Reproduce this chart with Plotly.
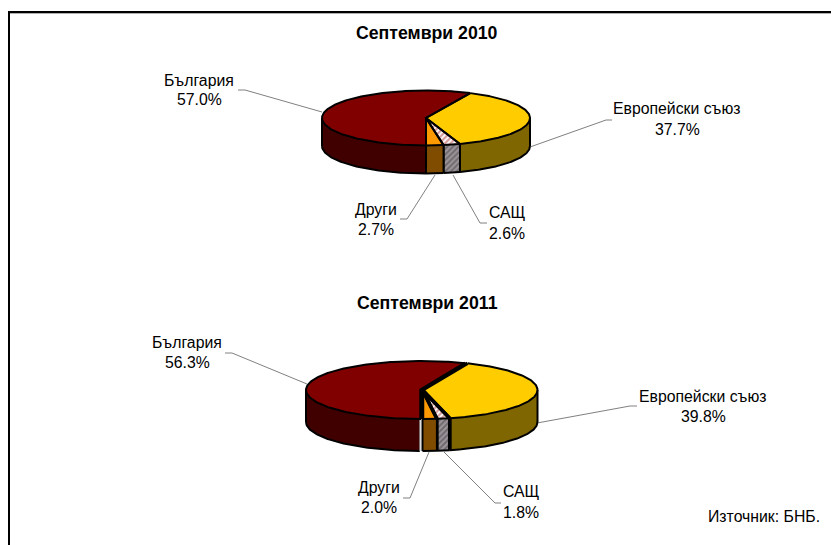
import math
import plotly.graph_objects as go

categories = ["Европейски съюз", "САЩ", "Други", "България"]
titles = ["Септември 2010", "Септември 2011"]
values_2010 = [37.7, 2.6, 2.7, 57.0]
values_2011 = [39.8, 1.8, 2.0, 56.3]
source_text = "Източник: БНБ."

TOP = ["#FFCC00", None, "#FF9900", "#800000"]
SIDE = ["#806600", None, "#804C00", "#400000"]
FONT = "Liberation Sans, Arial, sans-serif"
FS = 15.8

fig = go.Figure()


def pt(g, a, dz=0.0, off=(0, 0)):
    r = math.radians(a)
    return (g["cx"] + off[0] + g["rx"] * math.sin(r),
            g["cy"] + off[1] - g["ry"] * math.cos(r) + dz)


def arc(g, a0, a1, dz=0.0, off=(0, 0)):
    n = max(2, int(abs(a1 - a0)) + 2)
    return [pt(g, a0 + (a1 - a0) * i / (n - 1), dz, off) for i in range(n)]


def poly(points, color=None, pattern=None):
    xs = [p[0] for p in points] + [points[0][0]]
    ys = [p[1] for p in points] + [points[0][1]]
    kw = dict(fillpattern=pattern) if pattern else {}
    fig.add_trace(go.Scatter(x=xs, y=ys, mode="lines", fill="toself",
                             fillcolor=color or "rgba(0,0,0,0)",
                             line=dict(width=0, color="rgba(0,0,0,0)"),
                             hoverinfo="skip", showlegend=False, **kw))


def line(points, w=2, color="#000000"):
    fig.add_trace(go.Scatter(x=[p[0] for p in points], y=[p[1] for p in points],
                             mode="lines", line=dict(width=w, color=color),
                             hoverinfo="skip", showlegend=False))


def text(x, y, s, bold=False, size=FS):
    fig.add_annotation(x=x, y=y, text=f"<b>{s}</b>" if bold else s, showarrow=False,
                       xanchor="center", yanchor="middle",
                       font=dict(family=FONT, size=size, color="#000000"))


def draw_pie(values, g):
    front = sum(values[:3]) * 3.6
    a = 180 - front
    spans = []
    for i, v in enumerate(values):
        spans.append((i, a, a + v * 3.6))
        a += v * 3.6
    d = g["depth"]
    gap = g["gap"]
    # walls
    for i, a0, a1 in spans:
        off = g["offs"][i]
        for shift in (0, 360):
            lo, hi = max(a0 - shift, 90), min(a1 - shift, 270)
            if lo < hi:
                is_gap_wall = gap > 0 and i == 3
                wall_lo = lo + gap if is_gap_wall else lo
                top = arc(g, wall_lo, hi, 0, off)
                bot = arc(g, hi, wall_lo, d, off)
                if SIDE[i]:
                    poly(top + bot, SIDE[i])
                else:
                    poly(top + bot, None, dict(shape="/", bgcolor="#9A9298", fgcolor="#3C3C3C",
                                               size=4, solidity=0.45))
                line(arc(g, wall_lo, hi, d, off), g["edge"])
                if is_gap_wall:
                    line([pt(g, wall_lo, 0, off), pt(g, wall_lo, d, off)], 1, "#8C8C8C")
                else:
                    lo_w = g["edge"] if lo <= 90 or i == 2 else g["radial"]
                    line([pt(g, lo, 0, off), pt(g, lo, d, off)], lo_w)
                hi_w = g["edge"] if hi >= 270 or i == 2 else g["radial"]
                line([pt(g, hi, 0, off), pt(g, hi, d, off)], hi_w)
    # top faces
    for i, a0, a1 in spans:
        off = g["offs"][i]
        c = (g["cx"] + off[0], g["cy"] + off[1])
        pts = [c] + arc(g, a0, a1, 0, off)
        if TOP[i]:
            poly(pts, TOP[i])
        else:
            poly(pts, None, dict(shape="/", bgcolor="#FFFFFF", fgcolor="#B03C3C", size=4, solidity=0.55))
    for i, a0, a1 in spans:
        off = g["offs"][i]
        c = (g["cx"] + off[0], g["cy"] + off[1])
        line(arc(g, a0, a1, 0, off), g["edge"])
        line([pt(g, a0, 0, off), c, pt(g, a1, 0, off)], g["radial"])


def label(idx, values, xc, y1, y2):
    text(xc, y1, categories[idx])
    text(xc, y2, f"{values[idx]:.1f}%")


G1 = dict(cx=426, cy=118, rx=104, ry=27.5, depth=28, edge=2, radial=2, gap=0,
          offs=[(0, 0)] * 4)
G2 = dict(cx=422, cy=390, rx=115, ry=29, depth=32, edge=2, radial=3.5, gap=0.6,
          offs=[(0.5, 0), (0.5, 0), (0.5, 0), (-1, 0)])

LEAD = "#808080"
for pts in [
    [(238, 90), (245, 90), (322, 112)],
    [(612, 120), (606, 120), (530, 147)],
    [(400, 219), (407, 219), (435, 175)],
    [(487, 223), (480, 223), (453, 175)],
    [(225, 353), (232, 353), (307, 384)],
    [(637, 406), (630, 406), (537, 423)],
    [(403, 498), (410, 498), (429, 452)],
    [(501, 503), (495, 503), (444, 452)],
]:
    line(pts, 1, LEAD)

draw_pie(values_2010, G1)
draw_pie(values_2011, G2)

text(427, 33, titles[0], bold=True, size=17.7)
text(427, 303, titles[1], bold=True, size=17.7)

label(3, values_2010, 199, 80, 99)
label(0, values_2010, 677, 108, 129)
label(2, values_2010, 376, 209, 229)
label(1, values_2010, 507, 212, 233)
label(3, values_2011, 187, 342, 362)
label(0, values_2011, 703, 396, 416)
label(2, values_2011, 379, 487, 507)
label(1, values_2011, 521, 491, 512)
text(764, 516, source_text)

fig.add_shape(type="line", x0=9, x1=9, y0=12, y1=545, line=dict(color="#000000", width=2))
fig.add_shape(type="line", x0=8, x1=831, y0=12, y1=12, line=dict(color="#000000", width=2))
fig.add_shape(type="line", x0=10, x1=831, y0=13.5, y1=13.5, line=dict(color="#B0B0B0", width=1))

fig.update_layout(width=831, height=545, autosize=False,
                  margin=dict(l=0, r=0, t=0, b=0),
                  paper_bgcolor="#FFFFFF", plot_bgcolor="#FFFFFF", showlegend=False,
                  xaxis=dict(range=[0, 831], visible=False, fixedrange=True),
                  yaxis=dict(range=[545, 0], visible=False, fixedrange=True))
fig.write_html("out.html", config=dict(displayModeBar=False),
               post_script="document.body.style.margin='0';document.body.style.overflow='hidden';")
